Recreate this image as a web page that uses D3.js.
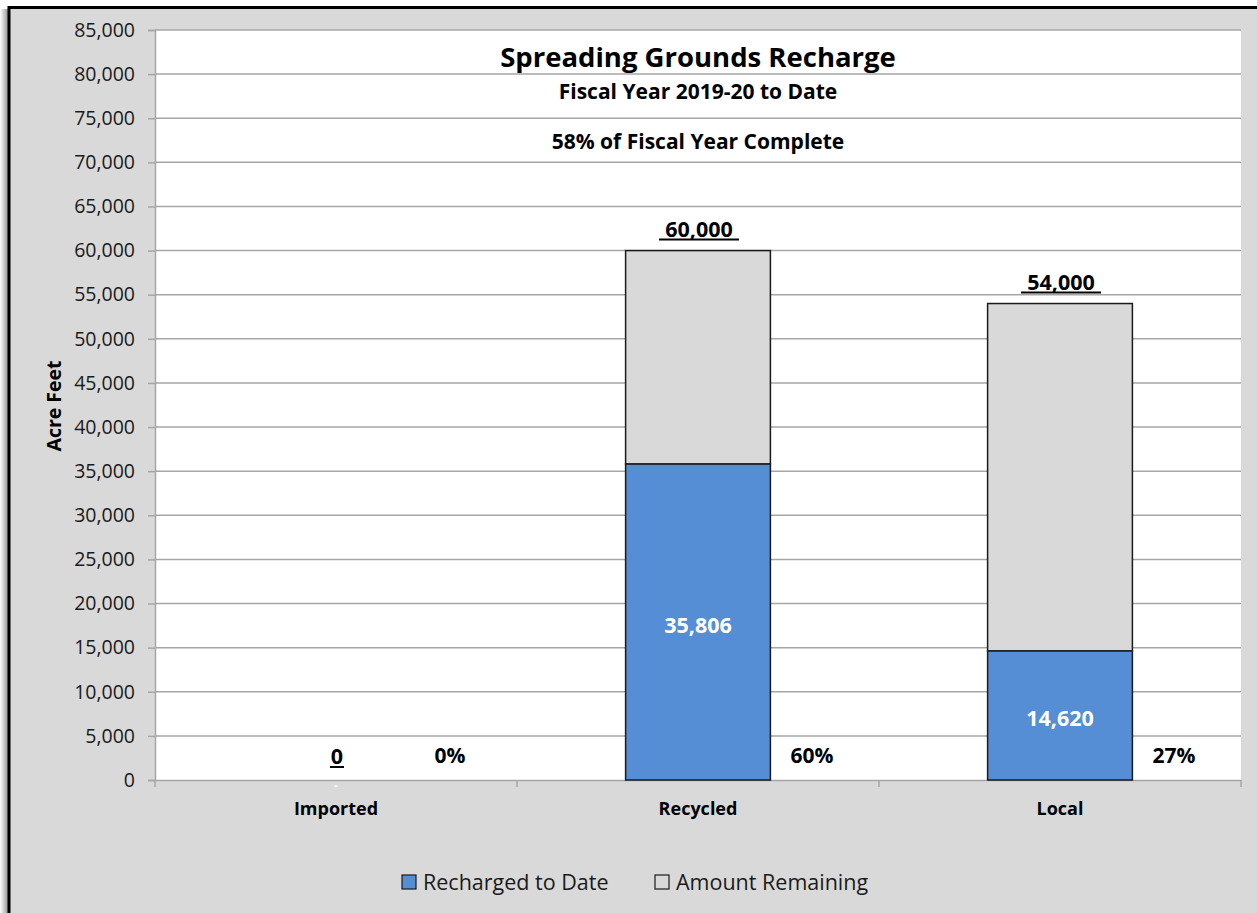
<!DOCTYPE html>
<html><head><meta charset="utf-8">
<script src="https://cdn.jsdelivr.net/npm/d3@7"></script>
<style>
html,body{margin:0;padding:0;background:#fff;}
svg{display:block;}
text{font-family:"Open Sans","Noto Sans",sans-serif;}
</style></head>
<body>
<svg id="chart" width="1257" height="913"></svg>
<script>
const categories = ["Imported", "Recycled", "Local"];
const recharged = [0, 35806, 14620];
const totals = [0, 60000, 54000];
const percentLabels = ["0%", "60%", "27%"];
const yTicks = [0,5000,10000,15000,20000,25000,30000,35000,40000,45000,50000,55000,60000,65000,70000,75000,80000,85000];
const seriesNames = ["Recharged to Date", "Amount Remaining"];
const titleText = "Spreading Grounds Recharge";
const subtitle1 = "Fiscal Year 2019-20 to Date";
const subtitle2 = "58% of Fiscal Year Complete";

const W = 1257, H = 913;
const svg = d3.select("#chart");
const defs = svg.append("defs");
const grad = defs.append("linearGradient").attr("id","shadow").attr("x1","0").attr("x2","1");
grad.append("stop").attr("offset","0").attr("stop-color","#ffffff");
grad.append("stop").attr("offset","1").attr("stop-color","#8a8a8a");

// frame background
svg.append("rect").attr("x",0).attr("y",0).attr("width",W).attr("height",H).attr("fill","#ffffff");
svg.append("rect").attr("x",0).attr("y",9).attr("width",9).attr("height",H).attr("fill","url(#shadow)");
svg.append("rect").attr("x",9).attr("y",8).attr("width",W-9).attr("height",H).attr("fill","#d9d9d9");
svg.append("line").attr("x1",9).attr("x2",W).attr("y1",7.5).attr("y2",7.5).attr("stroke","#000").attr("stroke-width",3);
svg.append("line").attr("x1",9).attr("x2",9).attr("y1",6).attr("y2",H).attr("stroke","#000").attr("stroke-width",3);

const plot = {left:155, right:1241, top:30, bottom:780};
const x = d3.scaleBand().domain(categories).range([plot.left, plot.right]).paddingInner(0).paddingOuter(0);
const y = d3.scaleLinear().domain([0,85000]).range([plot.bottom, plot.top]);
const barW = x.bandwidth()*0.4;

svg.append("rect").attr("x",plot.left).attr("y",plot.top).attr("width",plot.right-plot.left).attr("height",plot.bottom-plot.top).attr("fill","#ffffff");

// gridlines
svg.append("g").selectAll("line").data(yTicks.filter(d=>d>0)).join("line")
  .attr("x1",plot.left).attr("x2",plot.right)
  .attr("y1",d=>y(d)).attr("y2",d=>y(d))
  .attr("stroke","#a6a6a6").attr("stroke-width",1.5);

// y axis
const yAxis = svg.append("g").attr("transform",`translate(${plot.left},0)`)
  .call(d3.axisLeft(y).tickValues(yTicks).tickSize(7).tickPadding(13).tickFormat(d3.format(",")));
yAxis.select(".domain").attr("stroke","#a6a6a6").attr("stroke-width",1.5);
yAxis.selectAll(".tick line").attr("stroke","#a6a6a6").attr("stroke-width",1.5);
yAxis.selectAll(".tick text").attr("font-size",19.5).attr("fill","#1a1a1a").attr("font-family","'Open Sans',sans-serif");

// x axis
const xAxis = svg.append("g").attr("transform",`translate(0,${plot.bottom})`)
  .call(d3.axisBottom(x).tickSize(0).tickPadding(22));
xAxis.select(".domain").attr("stroke","#a6a6a6").attr("stroke-width",1.5);
xAxis.selectAll(".tick text").attr("font-size",18).attr("font-weight","bold").attr("fill","#000").attr("font-family","'Open Sans',sans-serif");
const bounds = categories.map(c=>x(c)).concat([plot.right]);
svg.append("g").selectAll("line").data(bounds).join("line")
  .attr("x1",d=>d).attr("x2",d=>d).attr("y1",plot.bottom).attr("y2",plot.bottom+7)
  .attr("stroke","#a6a6a6").attr("stroke-width",1.5);

// bars
const rows = categories.map((c,i)=>({c, r:recharged[i], t:totals[i], p:percentLabels[i]}));
const cx = c => x(c)+x.bandwidth()/2;
const bars = svg.append("g");
bars.selectAll("rect.rem").data(rows.filter(d=>d.t>0)).join("rect").attr("class","rem")
  .attr("x",d=>cx(d.c)-barW/2).attr("width",barW)
  .attr("y",d=>y(d.t)).attr("height",d=>y(d.r)-y(d.t))
  .attr("fill","#d9d9d9").attr("stroke","#1a1a1a").attr("stroke-width",1.5);
bars.selectAll("rect.rec").data(rows.filter(d=>d.r>0)).join("rect").attr("class","rec")
  .attr("x",d=>cx(d.c)-barW/2).attr("width",barW)
  .attr("y",d=>y(d.r)).attr("height",d=>y(0)-y(d.r))
  .attr("fill","#558ed5").attr("stroke","#1a1a1a").attr("stroke-width",1.5);

// inner labels
svg.append("g").selectAll("text").data(rows).join("text")
  .attr("x",d=>cx(d.c)).attr("y",d=> d.r>0 ? (y(d.r)+y(0))/2+3 : y(0)+6)
  .attr("dy","0.35em").attr("text-anchor","middle")
  .attr("font-size",d=>d.r>0?21.5:12).attr("font-weight","bold").attr("fill","#ffffff")
  .text(d=>d.r>0 ? d3.format(",")(d.r) : "-");

// total labels (underlined)
const tl = svg.append("g").selectAll("g").data(rows).join("g");
tl.append("text")
  .attr("x",d=>cx(d.c)+1).attr("y",d=> d.t>0 ? y(d.t)-14 : y(0)-16)
  .attr("text-anchor","middle").attr("font-size",21.5).attr("font-weight","bold").attr("fill","#000")
  .text(d=>d3.format(",")(d.t));
tl.append("line")
  .attr("x1",d=>cx(d.c)+1-(d.t>0?40:7)).attr("x2",d=>cx(d.c)+1+(d.t>0?40:7))
  .attr("y1",d=> d.t>0 ? y(d.t)-11 : y(0)-13).attr("y2",d=> d.t>0 ? y(d.t)-11 : y(0)-13)
  .attr("stroke","#000").attr("stroke-width",2);

// percent labels
svg.append("g").selectAll("text").data(rows).join("text")
  .attr("x",d=>cx(d.c)+114).attr("y",y(0)-24).attr("dy","0.35em")
  .attr("text-anchor","middle").attr("font-size",21).attr("font-weight","bold").attr("fill","#000")
  .text(d=>d.p);

// titles
const mid = (plot.left+plot.right)/2;
svg.append("text").attr("x",mid).attr("y",67).attr("text-anchor","middle")
  .attr("font-size",27.5).attr("font-weight","bold").attr("fill","#000").text(titleText);
svg.append("text").attr("x",mid).attr("y",99).attr("text-anchor","middle")
  .attr("font-size",21).attr("font-weight","bold").attr("fill","#000").text(subtitle1);
svg.append("text").attr("x",mid).attr("y",149).attr("text-anchor","middle")
  .attr("font-size",21).attr("font-weight","bold").attr("fill","#000").text(subtitle2);

// y axis title
svg.append("text").attr("transform","translate(61,406) rotate(-90)").attr("text-anchor","middle")
  .attr("font-size",19.5).attr("font-weight","bold").attr("fill","#000").text("Acre Feet");

// legend
const colors = ["#558ed5","#d9d9d9"];
const lg = svg.append("g");
const lx = [402, 655];
seriesNames.forEach((s,i)=>{
  lg.append("rect").attr("x",lx[i]).attr("y",875).attr("width",14).attr("height",14)
    .attr("fill",colors[i]).attr("stroke","#1a1a1a").attr("stroke-width",1.2);
  lg.append("text").attr("x",lx[i]+21).attr("y",882).attr("dy","0.35em")
    .attr("font-size",21.5).attr("fill","#1a1a1a").text(s);
});
</script>
</body></html>
